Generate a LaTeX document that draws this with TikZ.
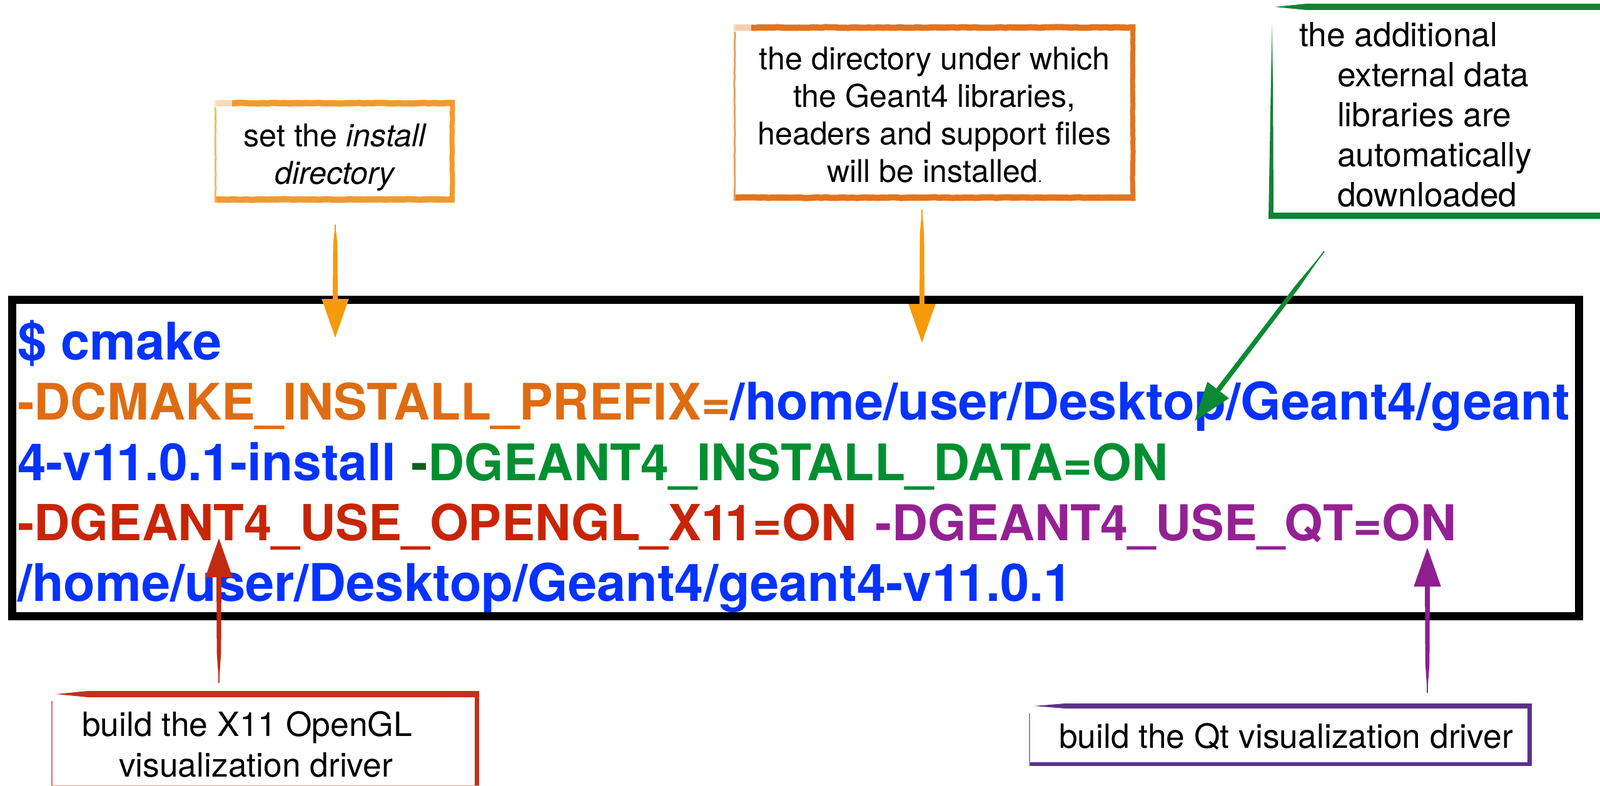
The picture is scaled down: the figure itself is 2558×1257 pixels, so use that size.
\documentclass[tikz,border=0pt]{standalone}
\usepackage{fontspec}
\setmainfont{TeX Gyre Heros}
\usetikzlibrary{arrows.meta,calc,decorations.pathmorphing}
\definecolor{cblue}{HTML}{0433FF}
\definecolor{corange}{HTML}{DF6C12}
\definecolor{cgreen}{HTML}{008F30}
\definecolor{cdgreen}{HTML}{0F5E1E}
\definecolor{cred}{HTML}{C82506}
\definecolor{cpurple}{HTML}{942193}
\definecolor{aorange}{HTML}{F59A0B}
\definecolor{agreen}{HTML}{0A8A32}
\definecolor{ared}{HTML}{C32A12}
\definecolor{apurple}{HTML}{8F1E8E}
\definecolor{borange}{HTML}{F39A2C}
\definecolor{bdorange}{HTML}{E07420}
\definecolor{bgreen}{HTML}{118236}
\definecolor{bred}{HTML}{C4301C}
\definecolor{bpurple}{HTML}{5E3188}
\newcommand\runin[3]{{\fontsize{#1}{48.25}\selectfont\color{#2}#3}}
\tikzset{
  x=0.5pt,y=-0.5pt,
  boxnode/.style={inner sep=0pt,outer sep=0pt,anchor=north west},
  brush/.style={decorate,decoration={random steps,segment length=3.5pt,amplitude=0.3pt}},
  note/.style={inner sep=0pt,outer sep=0pt,font=\fontsize{25.1}{30}\selectfont},
  bignote/.style={inner sep=0pt,outer sep=0pt,font=\fontsize{26.7}{32}\selectfont},
  cmdtext/.style={inner sep=0pt,outer sep=0pt,anchor=north west,align=left,font=\fontsize{40}{48.25}\selectfont\bfseries},
  conn/.style={line width=1pt,#1,-{Triangle[length=31pt,width=21.5pt]}},
}
% painted box: name, colour, top / right / bottom / left widths in pt
\newcommand\paintbox[6]{%
  \draw[brush,#2,line width=#3pt] ([yshift=-#3pt/2]#1.north west) -- ([yshift=-#3pt/2]#1.north east);
  \draw[brush,#2,line width=#4pt] ([xshift=-#4pt/2]#1.north east) -- ([xshift=-#4pt/2]#1.south east);
  \draw[brush,#2,line width=#5pt] ([yshift=#5pt/2]#1.south west) -- ([yshift=#5pt/2]#1.south east);
  \draw[brush,#2!70!white,line width=#6pt] ([xshift=#6pt/2]#1.north west) -- ([xshift=#6pt/2]#1.south west);
  \fill[white,opacity=0.65] ([xshift=-1pt,yshift=1pt]#1.north west) rectangle ([xshift=14pt,yshift=-#3pt-1pt]#1.north west);
}
% top edge that starts as a point at the left: name, colour, width, inset, taper length
\newcommand\taptop[5]{%
  \fill[#2] ([xshift=#4pt,yshift=-#3pt/2]#1.north west) -- ([xshift=#4pt+#5pt,yshift=0pt]#1.north west) -- (#1.north east) -- ([yshift=-#3pt]#1.north east) -- ([xshift=#4pt+#5pt,yshift=-#3pt]#1.north west) -- cycle;
}
% tapered shaft under an arrow
\newcommand\shaft[4]{%
  \fill[#3] (#1) -- ($(#1)!0.25!($(#2)!#4pt!(#1)$)!1.7pt!90:(#2)$) -- ($($(#2)!#4pt!(#1)$)!2pt!90:(#2)$) -- ($($(#2)!#4pt!(#1)$)!2pt!-90:(#2)$) -- ($(#1)!0.25!($(#2)!#4pt!(#1)$)!1.7pt!-90:(#2)$) -- cycle;
}
\begin{document}
\begin{tikzpicture}
\useasboundingbox (0,0) rectangle (2558,1257);
\fill[white] (0,0) rectangle (2558,1257);

% command frame
\coordinate (f1) at (19.5,479.5);
\coordinate (f2) at (2524.5,985.5);
\draw[black,line width=6.5pt] (f1) rectangle (f2);
\node[cmdtext] (cmd) at (28,512) {%
  \runin{41.5}{cblue}{\$ cmake}\\
  \runin{40.25}{corange}{-DCMAKE\_INSTALL\_PREFIX=}\runin{41.5}{cblue}{/home/user/Desktop/Geant4/geant}\\
  \runin{41}{cblue}{4-v1\kern-3pt 1.0.1-install} \kern1pt\runin{40.3}{cdgreen}{-}\runin{40.3}{cgreen}{DGEANT4\_INSTALL\_DATA=ON}\\
  \runin{39.8}{cred}{-DGEANT4\_USE\_OPENGL\_X1\kern-3pt 1=ON} \kern4pt\runin{39.5}{cpurple}{-DGEANT4\_USE\_QT=ON}\\
  \runin{41.5}{cblue}{/home/user/Desktop/Geant4/geant4-v1\kern-3pt 1.0.1}};

% boxes
\node[boxnode,minimum width=192pt,minimum height=82pt] (b1) at (343,160) {};
\paintbox{b1}{borange}{5}{4}{5}{1.5}
\node[boxnode,minimum width=321pt,minimum height=141pt] (b2) at (1173,39) {};
\paintbox{b2}{bdorange}{5}{4}{5}{1.5}
\node[boxnode,minimum width=271pt,minimum height=172pt] (b3) at (2028,6) {};
\taptop{b3}{bgreen}{5}{5}{25}
\draw[bgreen,line width=5pt] ([yshift=2.5pt]b3.south west) -- ([yshift=2.5pt]b3.south east);
\fill[bgreen] ([xshift=2pt,yshift=-60pt]b3.north west) -- ([xshift=3.6pt,yshift=-60pt]b3.north west) -- ([xshift=4pt]b3.south west) -- (b3.south west) -- cycle;
\shade[top color=white,bottom color=bgreen] ([xshift=2.2pt,yshift=-14pt]b3.north west) rectangle ([xshift=3.6pt,yshift=-60pt]b3.north west);
\node[boxnode,minimum width=342pt,minimum height=77pt] (b4) at (82,1105) {};
\taptop{b4}{bred}{5}{4}{25}
\draw[bred,line width=3.5pt] ([xshift=-1.8pt]b4.north east) -- ([xshift=-1.8pt]b4.south east);
\draw[bred!70!white,line width=1pt] ([xshift=0.5pt,yshift=-8pt]b4.north west) -- ([xshift=0.5pt]b4.south west);
\draw[bred!50!white,line width=1pt] ([yshift=1pt]b4.south west) -- ([yshift=1pt]b4.south east);
\node[boxnode,minimum width=402pt,minimum height=50pt] (b5) at (1645,1125) {};
\taptop{b5}{bpurple}{4}{4}{25}
\draw[bpurple,line width=3.5pt] ([xshift=-1.8pt]b5.north east) -- ([xshift=-1.8pt]b5.south east);
\draw[bpurple,line width=3pt] ([yshift=1.6pt]b5.south west) -- ([yshift=1.6pt]b5.south east);
\draw[bpurple!60!white,line width=1pt] ([xshift=0.5pt,yshift=-8pt]b5.north west) -- ([xshift=0.5pt]b5.south west);

% notes
\node[note,align=center,anchor=north] (t1) at (536,198) {set the \textit{install}\\\textit{directory}};
\node[note,align=center,anchor=north] (t2) at (1494,75) {the directory under which\\the Geant4 libraries,\\headers and support files\\will be installed{\fontsize{12}{12}\selectfont .}};
\node[bignote,align=left,anchor=north west] (t3) at (2077,36) {the additional\\\hspace*{30.5pt}external data\\\hspace*{30.5pt}libraries are\\\hspace*{30.5pt}automatically\\\hspace*{30.5pt}downloaded};
\node[bignote,align=left,anchor=north west,font=\fontsize{26.7}{32.5}\selectfont] (t4) at (131,1138) {build the X11 OpenGL\\\hspace*{29.5pt}visualization driver};
\node[bignote,anchor=base west] (t5) at (1693,1196) {build the Qt visualization driver};

% arrows
\coordinate (a1s) at (536,359); \coordinate (a1t) at (536,540);
\shaft{a1s}{a1t}{aorange}{31}
\draw[conn=aorange] (a1s) -- (a1t);
\coordinate (a2s) at (1474,335); \coordinate (a2t) at (1474,548);
\shaft{a2s}{a2t}{aorange}{27}
\draw[conn=aorange] (a2s) -- (a2t);
\coordinate (a3s) at (2117,402); \coordinate (a3t) at (1910,673);
\shaft{a3s}{a3t}{agreen}{31}
\draw[conn=agreen] (a3s) -- (a3t);
\coordinate (a4s) at (350,1092); \coordinate (a4t) at (350,861);
\shaft{a4s}{a4t}{ared}{22}
\draw[conn=ared] (a4s) -- (a4t);
\coordinate (a5s) at (2282,1108); \coordinate (a5t) at (2282,876);
\shaft{a5s}{a5t}{apurple}{22}
\draw[conn=apurple] (a5s) -- (a5t);
\end{tikzpicture}
\end{document}
